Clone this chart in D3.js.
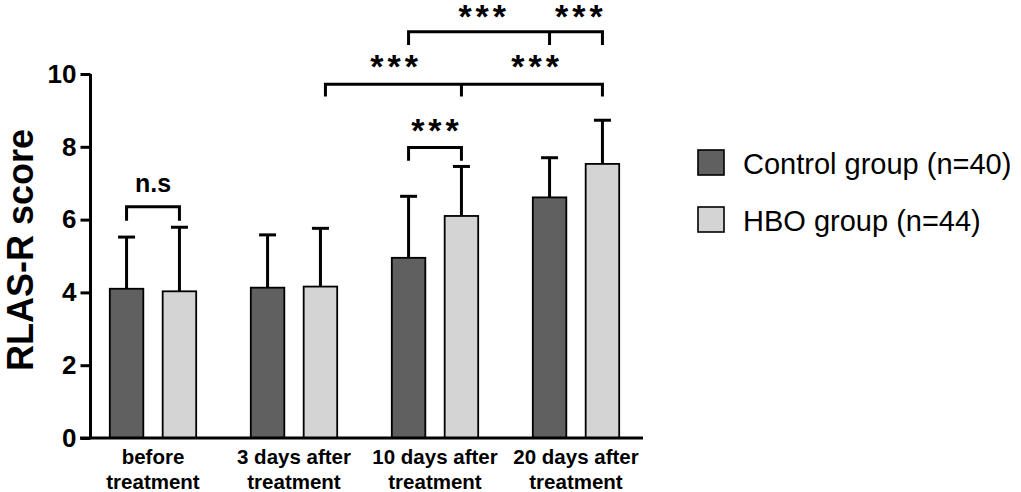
<!DOCTYPE html>
<html>
    <head>
        <title>RLAS-R score</title>
        <script src="https://d3js.org/d3.v7.min.js"></script>
        <style>
         body { margin: 0; background: #fff; }
         svg { display: block; font-family: "Liberation Sans", Arial, sans-serif; }
        </style>
    </head>
    <body>
        <svg width="1021" height="492"></svg>

        <script>
         // data
         const groups = ["before|treatment", "3 days after|treatment", "10 days after|treatment", "20 days after|treatment"];
         const series = ["Control group (n=40)", "HBO group (n=44)"];
         const controlMean = [4.10, 4.13, 4.95, 6.61];
         const controlUpper = [5.52, 5.58, 6.64, 7.70];
         const hboMean = [4.03, 4.16, 6.10, 7.53];
         const hboUpper = [5.79, 5.76, 7.46, 8.73];
         const yTicks = [0, 2, 4, 6, 8, 10];

         // significance brackets: ends as [group, series], level in score units
         const brackets = [
             {ends: [[0, 0], [0, 1]], level: 6.35, drop: 0.38},
             {ends: [[2, 0], [2, 1]], level: 7.98, drop: 0.36},
             {ends: [[1, 1], [2, 1], [3, 1]], level: 9.72, drop: 0.34, shift: 5},
             {ends: [[2, 0], [3, 0], [3, 1]], level: 11.16, drop: 0.36}
         ];
         // labels: position along the group axis (in groups), level in score units
         const labels = [
             {text: "n.s", at: 0, level: 6.75},
             {text: "***", at: 2.0, level: 8.14},
             {text: "***", at: 1.71, level: 9.9},
             {text: "***", at: 2.71, level: 9.9},
             {text: "***", at: 2.335, level: 11.26},
             {text: "***", at: 3.02, level: 11.26}
         ];

         const svg = d3.select("svg");
         const colors = ["#606060", "#d4d4d4"];

         const xScale = d3.scaleBand().domain(d3.range(groups.length)).range([82.5, 646.5]).padding(0);
         const xInner = d3.scaleBand().domain([0, 1]).range([-43.2, 43.2]).paddingInner(0.366);
         const yScale = d3.scaleLinear().domain([0, 10]).range([438, 74]);

         const gx = at => xScale(0) + xScale.bandwidth() * (at + 0.5);
         const cx = (gi, si) => gx(gi) + xInner(si) + xInner.bandwidth() / 2;

         const g = svg.append("g");

         // bars
         const rows = [];
         groups.forEach((d, i) => {
             rows.push({g: i, s: 0, mean: controlMean[i], upper: controlUpper[i]});
             rows.push({g: i, s: 1, mean: hboMean[i], upper: hboUpper[i]});
         });

         g.selectAll(".err")
          .data(rows)
          .join("line")
          .attr("x1", d => cx(d.g, d.s))
          .attr("x2", d => cx(d.g, d.s))
          .attr("y1", d => yScale(d.mean))
          .attr("y2", d => yScale(d.upper))
          .attr("stroke", "#000")
          .attr("stroke-width", 3);

         g.selectAll(".cap")
          .data(rows)
          .join("line")
          .attr("x1", d => cx(d.g, d.s) - 8.5)
          .attr("x2", d => cx(d.g, d.s) + 8.5)
          .attr("y1", d => yScale(d.upper))
          .attr("y2", d => yScale(d.upper))
          .attr("stroke", "#000")
          .attr("stroke-width", 3);

         g.selectAll(".bar")
          .data(rows)
          .join("rect")
          .attr("x", d => cx(d.g, d.s) - xInner.bandwidth() / 2)
          .attr("y", d => yScale(d.mean))
          .attr("width", xInner.bandwidth())
          .attr("height", d => yScale(0) - yScale(d.mean))
          .attr("fill", d => colors[d.s])
          .attr("stroke", "#000")
          .attr("stroke-width", 1.8);

         // y axis
         const yAxis = svg.append("g")
            .attr("transform", "translate(90.5,0)")
            .call(d3.axisLeft(yScale).tickValues(yTicks).tickSize(10).tickPadding(4));
         yAxis.select(".domain").attr("stroke-width", 3).attr("d", `M0,${yScale(10)}V${yScale(0)}`);
         yAxis.selectAll(".tick line").attr("stroke-width", 3);
         yAxis.selectAll(".tick text")
              .attr("font-size", 26)
              .attr("font-weight", "bold")
              .attr("fill", "#000")
              .attr("font-family", "Liberation Sans, Arial, sans-serif");

         // x axis line
         svg.append("line")
            .attr("x1", 80).attr("x2", 643)
            .attr("y1", yScale(0)).attr("y2", yScale(0))
            .attr("stroke", "#000").attr("stroke-width", 3);

         // x labels
         groups.forEach((name, i) => {
             const t = svg.append("text")
                .attr("text-anchor", "middle")
                .attr("font-size", 20.5)
                .attr("font-weight", "bold")
                .attr("x", gx(i))
                .attr("y", 464);
             name.split("|").forEach((line, k) => {
                 t.append("tspan")
                  .attr("x", gx(i))
                  .attr("dy", k === 0 ? 0 : 25)
                  .text(line);
             });
         });

         // y axis title
         svg.append("text")
            .attr("text-anchor", "middle")
            .attr("transform", "translate(33,250) rotate(-90)")
            .attr("font-size", 36)
            .attr("font-weight", "bold")
            .text("RLAS-R score");

         // brackets
         brackets.forEach(b => {
             const xs = b.ends.map(([gi, si], k) => cx(gi, si) + (k === 0 && b.shift ? b.shift : 0));
             const yTop = yScale(b.level);
             const yBot = yScale(b.level - b.drop);
             let path = `M${xs[0]},${yBot}V${yTop}H${xs[xs.length - 1]}V${yBot}`;
             xs.slice(1, -1).forEach(x => { path += `M${x},${yTop}V${yBot}`; });
             svg.append("path")
                .attr("d", path)
                .attr("fill", "none")
                .attr("stroke", "#000")
                .attr("stroke-width", 3);
         });

         labels.forEach(l => {
             const stars = l.text === "***";
             svg.append("text")
                .attr("text-anchor", "middle")
                .attr("x", gx(l.at) + (stars ? 2 : 0))
                .attr("y", yScale(l.level))
                .attr("font-size", stars ? 34 : 25)
                .attr("font-weight", "bold")
                .attr("letter-spacing", stars ? 4 : 0)
                .text(l.text);
         });

         // legend
         const legend = svg.append("g").attr("transform", "translate(698,150)");
         series.forEach((s, i) => {
             legend.append("rect")
                .attr("x", 0).attr("y", i * 57)
                .attr("width", 26).attr("height", 25)
                .attr("fill", colors[i])
                .attr("stroke", "#000")
                .attr("stroke-width", 1.6);
             legend.append("text")
                .attr("x", 45).attr("y", i * 57 + 24)
                .attr("font-size", 29)
                .text(s);
         });
        </script>
    </body>
</html>
